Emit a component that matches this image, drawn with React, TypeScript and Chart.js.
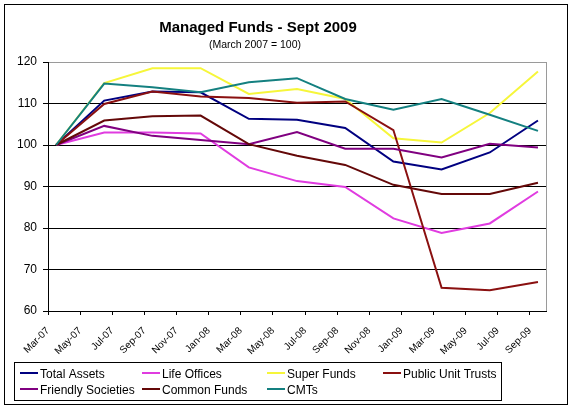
import React, { useEffect, useRef } from 'react';
import { Chart, registerables } from 'chart.js';

Chart.register(...registerables);

// ---------- data ----------
const quarters = ['Mar-07', 'Jun-07', 'Sep-07', 'Dec-07', 'Mar-08', 'Jun-08', 'Sep-08', 'Dec-08', 'Mar-09', 'Jun-09', 'Sep-09'];
const tickLabels = ['Mar-07', 'May-07', 'Jul-07', 'Sep-07', 'Nov-07', 'Jan-08', 'Mar-08', 'May-08', 'Jul-08', 'Sep-08', 'Nov-08', 'Jan-09', 'Mar-09', 'May-09', 'Jul-09', 'Sep-09'];
const yTicks = [60, 70, 80, 90, 100, 110, 120];

const seriesNames = ['Total Assets', 'Life Offices', 'Super Funds', 'Public Unit Trusts', 'Friendly Societies', 'Common Funds', 'CMTs'];

const totalAssets = [100, 110.7, 112.9, 112.7, 106.3, 106.1, 104.1, 96.0, 94.1, 98.2, 105.9];
const lifeOffices = [100, 103.0, 103.0, 102.8, 94.6, 91.3, 89.9, 82.3, 78.8, 81.1, 88.8];
const superFunds = [100, 114.9, 118.5, 118.5, 112.3, 113.5, 111.1, 101.6, 100.6, 107.7, 117.7];
const publicUnitTrusts = [100, 109.9, 112.9, 111.7, 111.3, 110.2, 110.5, 103.6, 65.6, 65.0, 67.0];
const friendlySocieties = [100, 104.6, 102.2, 101.2, 100.2, 103.1, 99.1, 99.1, 97.0, 100.3, 99.4];
const commonFunds = [100, 105.9, 106.9, 107.1, 100.2, 97.4, 95.2, 90.4, 88.2, 88.2, 90.9];
const cmts = [100, 114.8, 113.9, 112.7, 115.1, 116.1, 111.1, 108.5, 111.1, 107.3, 103.4];

const seriesValues = [totalAssets, lifeOffices, superFunds, publicUnitTrusts, friendlySocieties, commonFunds, cmts];
const seriesColors = ['#000080', '#e03ce0', '#f6f63a', '#8a1010', '#800080', '#640808', '#148080'];

const titleText = 'Managed Funds - Sept 2009';
const subtitleText = '(March 2007 = 100)';

// ---------- helpers ----------
const MONTHS = ['Jan', 'Feb', 'Mar', 'Apr', 'May', 'Jun', 'Jul', 'Aug', 'Sep', 'Oct', 'Nov', 'Dec'];
const monthIndex = (label: string) => {
  const [m, y] = label.split('-');
  return (parseInt(y, 10) - 7) * 12 + MONTHS.indexOf(m) - 2;
};
const FONT = "'Liberation Sans', Arial, sans-serif";

const decorPlugin = {
  id: 'decor',
  afterDraw(chart: any) {
    const ctx = chart.ctx as CanvasRenderingContext2D;
    const area = chart.chartArea;
    ctx.save();
    // outer frame
    ctx.strokeStyle = '#000';
    ctx.lineWidth = 1;
    ctx.strokeRect(4.5, 4.5, 563, 400);
    // right border of plot area
    ctx.strokeStyle = '#9a9a9a';
    ctx.beginPath();
    ctx.moveTo(Math.round(area.right) + 0.5, area.top);
    ctx.lineTo(Math.round(area.right) + 0.5, area.bottom);
    ctx.stroke();
    // titles
    ctx.fillStyle = '#000';
    ctx.textAlign = 'center';
    ctx.textBaseline = 'alphabetic';
    ctx.font = `bold 15px ${FONT}`;
    ctx.fillText(titleText, 258, 31.5);
    ctx.font = `10.5px ${FONT}`;
    ctx.fillText(subtitleText, 255, 47.5);
    // legend
    ctx.strokeStyle = '#000';
    ctx.lineWidth = 1;
    ctx.strokeRect(14.5, 362.5, 487, 38);
    const colX = [20, 142, 267, 383];
    const rowY = [373, 389];
    ctx.textAlign = 'left';
    ctx.font = `12px ${FONT}`;
    chart.data.datasets.forEach((ds: any, i: number) => {
      const x = colX[i % 4];
      const y = rowY[Math.floor(i / 4)];
      ctx.strokeStyle = ds.borderColor;
      ctx.lineWidth = 2;
      ctx.beginPath();
      ctx.moveTo(x, y);
      ctx.lineTo(x + 18, y);
      ctx.stroke();
      ctx.fillStyle = '#000';
      ctx.fillText(ds.label, x + 20, y + 4.5);
    });
    ctx.restore();
  },
};

export default function App() {
  const canvasRef = useRef<HTMLCanvasElement | null>(null);

  useEffect(() => {
    if (!canvasRef.current) return;
    const xMax = monthIndex(quarters[quarters.length - 1]) + 1;
    const chart = new Chart(canvasRef.current, {
      type: 'line',
      data: {
        datasets: seriesNames.map((name, i) => ({
          label: name,
          data: seriesValues[i].map((v, j) => ({ x: monthIndex(quarters[j]) + 0.5, y: v })),
          borderColor: seriesColors[i],
          backgroundColor: seriesColors[i],
          borderWidth: 2,
          pointRadius: 0,
          tension: 0,
          fill: false,
          order: seriesNames.length - i,
        })),
      },
      options: {
        responsive: false,
        animation: false,
        events: [],
        layout: { padding: { left: 0, right: 33, top: 62, bottom: 52 } },
        plugins: {
          legend: { display: false },
          title: { display: false },
          tooltip: { enabled: false },
        },
        scales: {
          x: {
            type: 'linear',
            min: 0,
            max: xMax,
            afterFit: (s: any) => {
              s.height = 45;
            },
            grid: { drawOnChartArea: false, drawTicks: true, tickLength: 4, color: '#000', tickColor: '#000' },
            border: { color: '#000', width: 1 },
            ticks: {
              stepSize: 2,
              includeBounds: false,
              autoSkip: false,
              minRotation: 45,
              maxRotation: 45,
              color: '#000',
              padding: 10,
              font: { family: FONT, size: 10 },
              callback: (v: any) => tickLabels.find((l) => monthIndex(l) === v) ?? '',
            },
          },
          y: {
            min: yTicks[0],
            max: yTicks[yTicks.length - 1],
            afterFit: (s: any) => {
              s.width = 48;
            },
            grid: {
              color: (c: any) => (c.tick && c.tick.value === yTicks[yTicks.length - 1] ? '#9a9a9a' : '#000'),
              tickLength: 5,
              tickColor: '#000',
            },
            border: { color: '#000', width: 1 },
            ticks: {
              stepSize: 10,
              color: '#000',
              padding: 6,
              font: { family: FONT, size: 12 },
            },
          },
        },
      },
      plugins: [decorPlugin],
    } as any);
    return () => chart.destroy();
  }, []);

  return (
    <div style={{ position: 'fixed', left: 0, top: 0, width: 579, height: 408, background: '#fff' }}>
      <canvas ref={canvasRef} width={579} height={408} style={{ display: 'block' }} />
    </div>
  );
}
